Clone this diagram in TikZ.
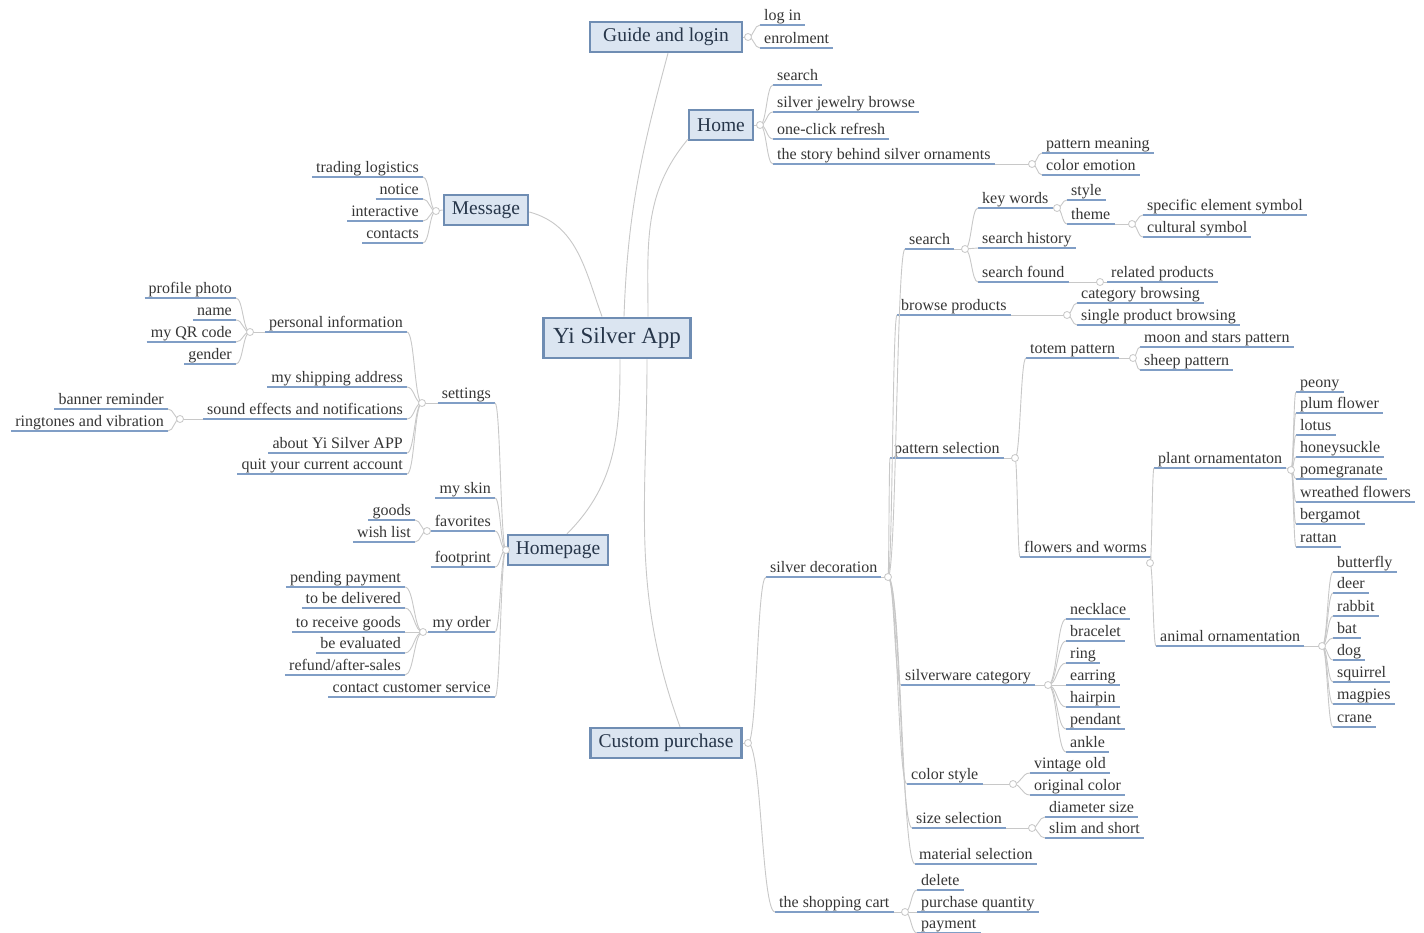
\documentclass[tikz,border=0pt]{standalone}
\usepackage{fontspec}
\setmainfont{Liberation Serif}
\usetikzlibrary{calc}

\definecolor{boxfill}{HTML}{DBE5F1}
\definecolor{boxline}{HTML}{6F8DB3}
\definecolor{boxtext}{HTML}{27364A}
\definecolor{leaftext}{HTML}{363636}
\definecolor{ulcol}{HTML}{809EC6}
\definecolor{linkcol}{HTML}{C8C8C8}

\begin{document}
\begin{tikzpicture}[x=1pt, y=-1pt,
    every node/.style={font=\fontsize{16}{18}\selectfont, text=leaftext},
    topic/.style={draw=boxline, line width=2.4pt, fill=boxfill, text=boxtext,
      font=\fontsize{19.5}{22}\selectfont, inner xsep=8pt, minimum height=30pt},
    centre/.style={topic, line width=2.9pt, font=\fontsize{23}{26}\selectfont,
      inner xsep=10pt, minimum height=40pt},
    underl/.style={draw=ulcol, line width=1.3pt},
    leaf/.style={anchor=south west, inner xsep=4pt, inner ysep=1pt,
      text height=11pt, text depth=3.5pt,
      append after command={(\tikzlastnode.south west) edge[underl] (\tikzlastnode.south east)}},
    lleaf/.style={leaf, anchor=south east},
    link/.style={draw=linkcol, line width=0.9pt},
    curvy/.style={to path={.. controls ($(\tikztostart)!0.5!(\tikztostart -| \tikztotarget)$)
      and ($(\tikztotarget)!0.5!(\tikztostart |- \tikztotarget)$) .. (\tikztotarget)}},
    hub/.style={draw=linkcol, fill=white, line width=0.8pt}]
\fill[white] (0,0) rectangle (1424,933);
\useasboundingbox (0,0) rectangle (1424,933);

% central topic and main branches
\node[centre] (app) at (617,338) {Yi Silver App};
\node[topic, minimum width=152pt] (guide) at (666,37) {Guide and login};
\node[topic] (home) at (721,125) {Home};
\node[topic] (msg) at (486,210) {Message};
\node[topic] (hpage) at (558,550) {Homepage};
\node[topic] (cpur) at (666,743) {Custom purchase};

% hubs
\coordinate (hguide) at (748,37);   \coordinate (hhome) at (760,125);
\coordinate (hmsg) at (436,211);    \coordinate (hhp) at (506,550);
\coordinate (hcp) at (748,743);     \coordinate (hstory) at (1032,164);
\coordinate (hset) at (422,403);    \coordinate (hpinfo) at (250,332);
\coordinate (hsound) at (180,419);  \coordinate (hfav) at (427,531);
\coordinate (horder) at (423,632);  \coordinate (hsdec) at (888,577);
\coordinate (hcart) at (905,912);   \coordinate (hsrch) at (965,249);
\coordinate (hkw) at (1057,208);    \coordinate (htheme) at (1132,224);
\coordinate (hfound) at (1100,282); \coordinate (hbprod) at (1067,315);
\coordinate (hpat) at (1015,458);   \coordinate (htotem) at (1133,358);
\coordinate (hflow) at (1150,563);  \coordinate (hplant) at (1291,470);
\coordinate (hanimal) at (1322,646);\coordinate (hware) at (1048,685);
\coordinate (hcstyle) at (1013,784);\coordinate (hsize) at (1032,828);

% Guide and login, Home
\node[leaf] (login) at (760,25) {log in};
\node[leaf] (enrol) at (760,48) {enrolment};
\foreach \n/\t/\y in {hsearch/search/85, jbrowse/silver jewelry browse/112,
    refresh/one-click refresh/139, story/the story behind silver ornaments/164}
  \node[leaf] (\n) at (773,\y) {\t};
\node[leaf] (meaning) at (1042,153) {pattern meaning};
\node[leaf] (emotion) at (1042,175) {color emotion};

% Message
\foreach \n/\t/\y in {logist/trading logistics/177, notice/notice/199,
    interact/interactive/221, contact/contacts/243}
  \node[lleaf] (\n) at (423,\y) {\t};

% Homepage
\foreach \n/\t/\y in {settings/settings/403, skin/my skin/498, favor/favorites/531,
    foot/footprint/567, order/my order/632, service/contact customer service/697}
  \node[lleaf] (\n) at (495,\y) {\t};
\foreach \n/\t/\y in {pinfo/personal information/332, ship/my shipping address/387,
    sound/sound effects and notifications/419, aboutapp/about Yi Silver APP/453,
    quit/quit your current account/474}
  \node[lleaf] (\n) at (407,\y) {\t};
\foreach \n/\t/\y in {photo/profile photo/298, pname/name/320, qr/my QR code/342, gender/gender/364}
  \node[lleaf] (\n) at (236,\y) {\t};
\node[lleaf] (banner) at (168,409) {banner reminder};
\node[lleaf] (ringvib) at (168,431) {ringtones and vibration};
\node[lleaf] (goods) at (415,520) {goods};
\node[lleaf] (wish) at (415,542) {wish list};
\foreach \n/\t/\y in {pending/pending payment/587, deliver/to be delivered/608,
    receive/to receive goods/632, evaluate/be evaluated/653}
  \node[lleaf] (\n) at (405,\y) {\t};
\node[lleaf] (refund) at (405,675) {refund/after-sales};

% Custom purchase
\node[leaf] (sdec) at (766,577) {silver decoration};
\node[leaf] (cart) at (775,912) {the shopping cart};
\node[leaf] (del) at (917,890) {delete};
\node[leaf] (qty) at (917,912) {purchase quantity};
\node[leaf] (pay) at (917,933) {payment};
\node[leaf] (search) at (905,249) {search};
\node[leaf] (bprod) at (897,315) {browse products};
\node[leaf] (pattern) at (890,458) {pattern selection};
\node[leaf] (ware) at (901,685) {silverware category};
\node[leaf] (cstyle) at (907,784) {color style};
\node[leaf] (size) at (912,828) {size selection};
\node[leaf] (material) at (915,864) {material selection};
\node[leaf] (kw) at (978,208) {key words};
\node[leaf] (hist) at (978,248) {search history};
\node[leaf] (found) at (978,282) {search found};
\node[leaf] (kstyle) at (1067,200) {style};
\node[leaf] (theme) at (1067,224) {theme};
\node[leaf] (spec) at (1143,215) {specific element symbol};
\node[leaf] (cult) at (1143,237) {cultural symbol};
\node[leaf] (related) at (1107,282) {related products};
\node[leaf] (catb) at (1077,303) {category browsing};
\node[leaf] (singleb) at (1077,325) {single product browsing};
\node[leaf] (totem) at (1026,358) {totem pattern};
\node[leaf] (moon) at (1140,347) {moon and stars pattern};
\node[leaf] (sheep) at (1140,370) {sheep pattern};
\node[leaf] (flowers) at (1020,557) {flowers and worms};
\node[leaf] (plant) at (1154,468) {plant ornamentaton};
\node[leaf] (animal) at (1156,646) {animal ornamentation};
\foreach \n/\t/\y in {peony/peony/392, plum/plum flower/413, lotus/lotus/435,
    honey/honeysuckle/457, pome/pomegranate/479, wreath/wreathed flowers/502,
    berg/bergamot/524, rattan/rattan/547}
  \node[leaf] (\n) at (1296,\y) {\t};
\foreach \n/\y in {butterfly/572, deer/593, rabbit/616, bat/638, dog/660,
    squirrel/682, magpies/704, crane/727}
  \node[leaf] (\n) at (1333,\y) {\n};
\foreach \n/\y in {necklace/619, bracelet/641, ring/663, earring/685,
    hairpin/707, pendant/729, ankle/752}
  \node[leaf] (\n) at (1066,\y) {\n};
\node[leaf] (vintage) at (1030,773) {vintage old};
\node[leaf] (orig) at (1030,795) {original color};
\node[leaf] (diam) at (1045,817) {diameter size};
\node[leaf] (slim) at (1045,838) {slim and short};

% main branches
\draw[link] ([xshift=7pt]app.north) to[out=88, in=-105] ([xshift=2pt]guide.south);
\draw[link] ([xshift=31pt]app.north) to[out=90, in=-130] ([yshift=2pt]home.south west);
\draw[link] ([xshift=-15pt]app.north) to[out=110, in=-15] ([yshift=-2pt]msg.east);
\draw[link] ([xshift=3pt]app.south) to[out=-90, in=45] ([xshift=9pt]hpage.north);
\draw[link] ([xshift=30pt]app.south) to[out=-90, in=110] ([xshift=14pt]cpur.north);

% parents to hubs
\draw[link] (guide.east) -- (hguide);  \draw[link] (home.east) -- (hhome);
\draw[link] (msg.west) -- (hmsg);      \draw[link] (hpage.west) -- (hhp);
\draw[link] (cpur.east) -- (hcp);
\foreach \p/\h in {story/hstory, sdec/hsdec, cart/hcart, search/hsrch, kw/hkw,
    theme/htheme, found/hfound, bprod/hbprod, pattern/hpat, totem/htotem,
    flowers/hflow, plant/hplant, animal/hanimal, ware/hware, cstyle/hcstyle, size/hsize}
  \draw[link] (\p.south east) -- (\h);
\foreach \p/\h in {settings/hset, pinfo/hpinfo, sound/hsound, favor/hfav, order/horder}
  \draw[link] (\p.south west) -- (\h);

% hubs to children
\foreach \c in {login,enrol} \draw[link] (hguide) to[curvy] (\c.south west);
\foreach \c in {hsearch,jbrowse,refresh,story} \draw[link] (hhome) to[curvy] (\c.south west);
\foreach \c in {meaning,emotion} \draw[link] (hstory) to[curvy] (\c.south west);
\foreach \c in {logist,notice,interact,contact} \draw[link] (hmsg) to[curvy] (\c.south east);
\foreach \c in {settings,skin,favor,foot,order,service} \draw[link] (hhp) to[curvy] (\c.south east);
\foreach \c in {pinfo,ship,sound,aboutapp,quit} \draw[link] (hset) to[curvy] (\c.south east);
\foreach \c in {photo,pname,qr,gender} \draw[link] (hpinfo) to[curvy] (\c.south east);
\foreach \c in {banner,ringvib} \draw[link] (hsound) to[curvy] (\c.south east);
\foreach \c in {goods,wish} \draw[link] (hfav) to[curvy] (\c.south east);
\foreach \c in {pending,deliver,receive,evaluate,refund} \draw[link] (horder) to[curvy] (\c.south east);
\foreach \c in {sdec,cart} \draw[link] (hcp) to[curvy] (\c.south west);
\foreach \c in {del,qty,pay} \draw[link] (hcart) to[curvy] (\c.south west);
\foreach \c in {search,bprod,pattern,ware,cstyle,size,material} \draw[link] (hsdec) to[curvy] (\c.south west);
\foreach \c in {kw,hist,found} \draw[link] (hsrch) to[curvy] (\c.south west);
\foreach \c in {kstyle,theme} \draw[link] (hkw) to[curvy] (\c.south west);
\foreach \c in {spec,cult} \draw[link] (htheme) to[curvy] (\c.south west);
\draw[link] (hfound) to[curvy] (related.south west);
\foreach \c in {catb,singleb} \draw[link] (hbprod) to[curvy] (\c.south west);
\foreach \c in {totem,flowers} \draw[link] (hpat) to[curvy] (\c.south west);
\foreach \c in {moon,sheep} \draw[link] (htotem) to[curvy] (\c.south west);
\foreach \c in {plant,animal} \draw[link] (hflow) to[curvy] (\c.south west);
\foreach \c in {peony,plum,lotus,honey,pome,wreath,berg,rattan} \draw[link] (hplant) to[curvy] (\c.south west);
\foreach \c in {butterfly,deer,rabbit,bat,dog,squirrel,magpies,crane} \draw[link] (hanimal) to[curvy] (\c.south west);
\foreach \c in {necklace,bracelet,ring,earring,hairpin,pendant,ankle} \draw[link] (hware) to[curvy] (\c.south west);
\foreach \c in {vintage,orig} \draw[link] (hcstyle) to[curvy] (\c.south west);
\foreach \c in {diam,slim} \draw[link] (hsize) to[curvy] (\c.south west);

% small circles on top
\foreach \h in {hguide,hhome,hmsg,hhp,hcp,hstory,hset,hpinfo,hsound,hfav,horder,
    hsdec,hcart,hsrch,hkw,htheme,hfound,hbprod,hpat,htotem,hflow,hplant,hanimal,
    hware,hcstyle,hsize}
  \draw[hub] (\h) circle (3.5pt);
\end{tikzpicture}
\end{document}
